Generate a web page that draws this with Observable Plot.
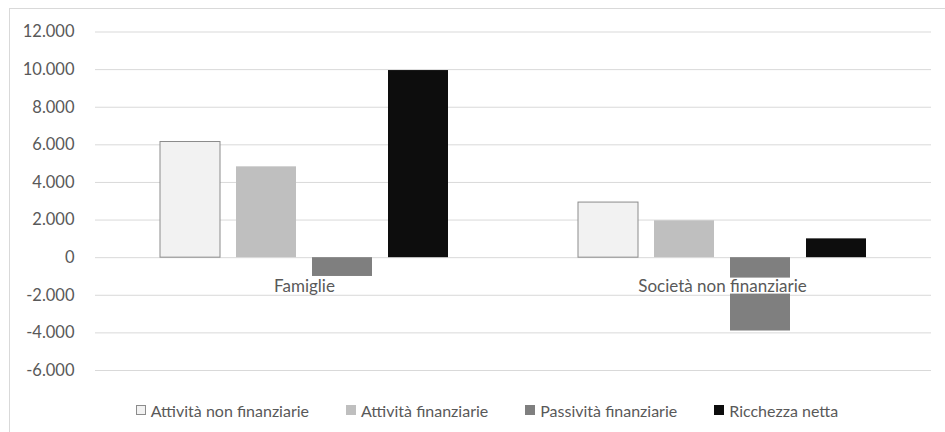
<!DOCTYPE html>
<html><head><meta charset="utf-8">
<script src="https://cdn.jsdelivr.net/npm/d3@7"></script>
<script src="https://cdn.jsdelivr.net/npm/@observablehq/plot@0.6"></script>
<style>
body{margin:0;width:945px;height:432px;overflow:hidden;background:#fff;font-family:Lato,sans-serif;position:relative}
#frame{position:absolute;left:9px;top:8px;width:1000px;height:1000px;border:1px solid #d9d9d9;box-sizing:border-box;pointer-events:none}
#chart svg{display:block}
#legend{display:flex;justify-content:center;gap:37px;font-size:16px;color:#595959;padding-left:29px;height:36px;align-items:center;margin-top:0}
#legend .item{display:flex;align-items:center;gap:5px;white-space:nowrap}
#legend .sw{width:10px;height:10px;box-sizing:border-box}
</style></head>
<body>
<div id="frame"></div>
<div id="chart"></div>
<div id="legend"></div>
<script>
const categories = ["Famiglie", "Società non finanziarie"];
const series = ["Attività non finanziarie", "Attività finanziarie", "Passività finanziarie", "Ricchezza netta"];
const famiglie = [6150, 4830, -1000, 9950];
const societa = [2930, 1960, -3900, 1000];
const yTicks = [-6000, -4000, -2000, 0, 2000, 4000, 6000, 8000, 10000, 12000];
const fills = ["#f2f2f2", "#bfbfbf", "#7f7f7f", "#0d0d0d"];
const swatchBorders = ["#8c8c8c", "#bfbfbf", "#7f7f7f", "#0d0d0d"];

const rows = [];
[famiglie, societa].forEach((vals, ci) => vals.forEach((v, si) => rows.push({category: categories[ci], series: series[si], value: v})));

const loc = d3.formatLocale({decimal: ",", thousands: ".", grouping: [3], currency: ["", ""], minus: "-"});
const fmt = loc.format(",");

const plot = Plot.plot({
  width: 945,
  height: 392,
  marginTop: 31.5,
  marginBottom: 22,
  marginLeft: 94,
  marginRight: 14,
  style: {fontFamily: "Lato, sans-serif", fontSize: "16px", color: "#595959", background: "transparent"},
  fx: {domain: categories, padding: 0, axis: null},
  x: {domain: series, paddingInner: 0.216, paddingOuter: 0.843, axis: null},
  y: {domain: [-6000, 12000], axis: null},
  color: {domain: series, range: fills},
  marks: [
    Plot.ruleY(yTicks, {stroke: "#d9d9d9", strokeWidth: 1}),
    Plot.axisY({ticks: yTicks, tickSize: 0, tickPadding: 21, tickFormat: fmt, label: null, fill: "#595959", fontSize: 16.5}),
    Plot.barY(rows, {fx: "category", x: "series", y: "value", fill: "series"}),
    Plot.barY(rows.filter(d => d.series === series[0]), {fx: "category", x: "series", y: "value", fill: "none", stroke: "#8c8c8c", strokeWidth: 1}),
    Plot.text(categories, {fx: d => d, y: 0, text: d => d, dy: 29, fill: "#595959", fontSize: 17,
      render: (i, s, v, d, c, next) => { const g = next(i, s, v, d, c); g.classList.add("catlabel"); return g; }})
  ]
});
document.getElementById("chart").append(plot);

// white box behind category labels
plot.querySelectorAll("g.catlabel text").forEach(t => {
  const b = t.getBBox();
  const r = document.createElementNS("http://www.w3.org/2000/svg", "rect");
  r.setAttribute("x", b.x - 3); r.setAttribute("y", b.y + 2.5);
  r.setAttribute("width", b.width + 6); r.setAttribute("height", b.height - 5);
  r.setAttribute("fill", "#fff");
  if (t.getAttribute("transform")) r.setAttribute("transform", t.getAttribute("transform"));
  t.parentNode.insertBefore(r, t);
});

const legend = document.getElementById("legend");
series.forEach((s, i) => {
  const it = document.createElement("div"); it.className = "item";
  const sw = document.createElement("div"); sw.className = "sw";
  sw.style.background = fills[i]; sw.style.border = "1px solid " + swatchBorders[i];
  const tx = document.createElement("span"); tx.textContent = s;
  it.append(sw, tx); legend.append(it);
});
</script>
</body></html>
